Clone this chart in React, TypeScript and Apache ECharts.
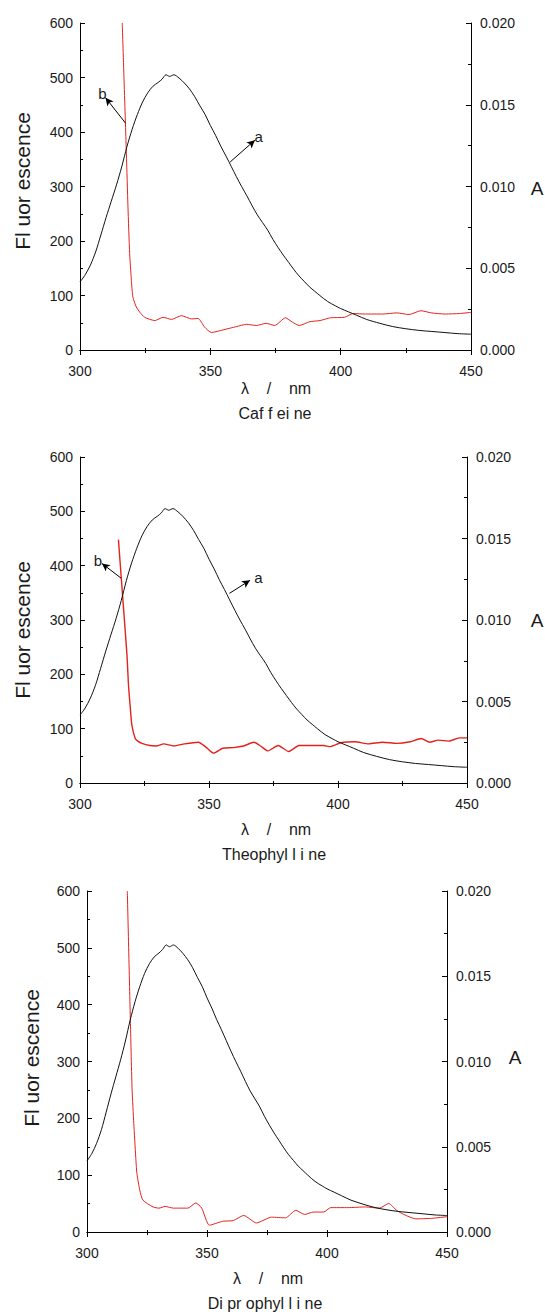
import React, { useEffect, useRef } from "react";
import * as echarts from "echarts";

// Fluorescence spectrum (curve a), wavelength nm -> intensity (same in all three panels)
const fluorescence: [number, number][] = [
  [300, 125], [302, 138], [304, 156], [306, 180], [308, 211], [310, 243], [312, 273],
  [314, 303], [316, 336], [318, 373], [320, 405], [322, 432], [324, 455], [326, 472],
  [328, 484], [330, 491], [331.5, 497], [333, 505], [334.4, 502], [336, 505], [338, 499],
  [340, 490], [342, 479], [344, 465], [346, 448], [348, 432], [350, 412], [352, 394],
  [354, 374], [356, 356], [358, 337], [360, 318], [362, 300], [364, 283], [366, 265],
  [368, 248], [370, 234], [372, 220], [374, 203], [376, 188], [378, 174], [380, 161],
  [382, 148], [384, 136], [386, 126], [388, 116], [390, 108], [392, 100], [395, 89],
  [398, 81], [400, 76], [403, 70], [406, 64], [410, 56], [415, 49], [420, 43], [425, 39],
  [430, 36], [435, 34], [440, 32], [445, 30], [450, 29],
];

// Absorbance spectra (curve b), wavelength nm -> A
const absCaffeine: [number, number][] = [
  [316.2, 0.02], [317.8, 0.012], [318.4, 0.00876], [319.05, 0.0059], [319.7, 0.00427],
  [320.3, 0.00323], [321.6, 0.00263], [322.9, 0.00232], [324.8, 0.002], [328.7, 0.0018],
  [331.9, 0.002], [335.1, 0.00187], [338.9, 0.0021],
  [342.8, 0.0019], [345.3, 0.00193], [347.8, 0.0014], [350.4, 0.00107], [354.9, 0.00123],
  [360, 0.00143], [363.9, 0.00157], [367.7, 0.0015], [371.4, 0.00163], [374.7, 0.0015],
  [378.8, 0.00197], [381.5, 0.0017], [384.1, 0.0015], [388.1, 0.00173], [392.1, 0.0018],
  [396.1, 0.00197], [401.5, 0.002], [404.8, 0.00223], [409.5, 0.0022], [416.2, 0.0022],
  [421.5, 0.00227], [426.2, 0.00217], [430.8, 0.0024], [434.8, 0.00227], [440.2, 0.0022],
  [445.5, 0.00223], [450, 0.0023],
];
const absTheophylline: [number, number][] = [
  [314.9, 0.01493], [316.3, 0.01193], [318.2, 0.00787], [318.8, 0.006], [319.5, 0.0046],
  [320.1, 0.00355], [321.4, 0.00273], [322.4, 0.00257],
  [324, 0.00243], [327, 0.0023], [329.8, 0.00227], [332.4, 0.0024], [336.4, 0.00227],
  [340.5, 0.0024], [345.9, 0.0025], [348.6, 0.00223], [351.7, 0.00183], [355.3, 0.00213],
  [359.5, 0.00217], [363.4, 0.00227], [367.4, 0.0025], [370, 0.00227], [372.8, 0.00197],
  [376.8, 0.0023], [380.9, 0.00193], [384.9, 0.0023], [390, 0.0023], [394.4, 0.0023],
  [397, 0.00223], [401.1, 0.00247], [406.5, 0.00253], [411.9, 0.0024], [417.3, 0.0025],
  [422.7, 0.00243], [428, 0.00253], [432.3, 0.00273], [435.5, 0.0025], [438.8, 0.00263],
  [442.9, 0.00257], [447, 0.00277], [450, 0.00277],
];
const absDiprophylline: [number, number][] = [
  [316.8, 0.02], [318.1, 0.01223], [318.8, 0.00833], [319.5, 0.00637], [320.3, 0.0044],
  [320.8, 0.00343], [322, 0.00245], [323.3, 0.00187],
  [327.5, 0.00147], [330, 0.0014], [332.6, 0.0015], [336, 0.0014], [342, 0.0014],
  [345.3, 0.0017], [347.8, 0.0014], [351, 0.0004], [356.6, 0.00063], [360.9, 0.00067],
  [365.3, 0.00097], [370.6, 0.00053], [376.9, 0.00087], [382.7, 0.00083], [387, 0.00127],
  [390.7, 0.00103], [394.3, 0.00117], [398.6, 0.00117], [401.5, 0.00143], [408.8, 0.00143],
  [416, 0.00147], [421.8, 0.0014], [425.7, 0.00167], [429, 0.00127], [432, 0.00103],
  [437, 0.00077], [443.6, 0.0008], [450, 0.0009],
];

const compounds = ["Caf f ei ne", "Theophyl l i ne", "Di pr ophyl l i ne"];
const xTickLabels = [300, 350, 400, 450];
const leftTicks = [0, 100, 200, 300, 400, 500, 600];
const rightTicks = [0, 0.005, 0.01, 0.015, 0.02];

// Arrow annotations [tail, head] in data units (a: left axis, b: right axis)
const arrowsA: ([number, number][] | null)[] = [
  [[357.6, 345], [367.1, 385]],
  [[357.9, 349], [365.9, 373]],
  null,
];
const arrowsB: ([number, number][] | null)[] = [
  [[317.5, 0.01387], [309.8, 0.01543]],
  [[315.9, 0.01257], [308.5, 0.01347]],
  null,
];

const FONT = "'Liberation Sans', Arial, Helvetica, sans-serif";
const TXT = "#1a1a1a";

const grids = [
  { left: 80, top: 23, width: 391, height: 327 },
  { left: 80, top: 457, width: 387, height: 326 },
  { left: 87, top: 891, width: 360, height: 341 },
];
const absData = [absCaffeine, absTheophylline, absDiprophylline];
const redWidths = [1, 1.4, 1];

// title positions (layout only)
const titlePos = [
  { fl: [22, 181], lam: [276, 388], name: [275, 413], a: [537, 188] },
  { fl: [22, 630], lam: [276, 829], name: [274, 854], a: [537, 620] },
  { fl: [31, 1058], lam: [268, 1278], name: [265, 1303], a: [515, 1057] },
];

export default function App() {
  const ref = useRef<HTMLDivElement>(null);
  useEffect(() => {
    if (!ref.current) return;
    const chart = echarts.init(ref.current, null, { renderer: "svg" });
    const axisLine = { show: true, lineStyle: { color: "#000", width: 1 } };
    const xAxes: any[] = [];
    const yAxes: any[] = [];
    const series: any[] = [];
    const graphic: any[] = [];
    grids.forEach((g, i) => {
      xAxes.push({
        type: "value", gridIndex: i, position: "bottom",
        min: xTickLabels[0], max: xTickLabels[xTickLabels.length - 1], interval: 50,
        axisLine, splitLine: { show: false },
        axisTick: { show: true, inside: false, length: 5, lineStyle: { color: "#000" } },
        minorTick: { show: true, splitNumber: 2, length: 3, lineStyle: { color: "#000" } },
        axisLabel: { fontSize: 14, color: TXT, fontFamily: FONT, margin: 14 },
      });
      xAxes.push({
        type: "value", gridIndex: i, position: "top",
        min: 300, max: 450, interval: 25,
        axisLine, splitLine: { show: false },
        axisTick: { show: true, inside: false, length: 2, lineStyle: { color: "#000" } },
        axisLabel: { show: false },
      });
      yAxes.push({
        type: "value", gridIndex: i, position: "left",
        min: leftTicks[0], max: leftTicks[leftTicks.length - 1], interval: 100,
        axisLine, splitLine: { show: false },
        axisTick: { show: true, inside: true, length: 5, lineStyle: { color: "#000" } },
        minorTick: { show: true, splitNumber: 2, length: 3, lineStyle: { color: "#000" } },
        axisLabel: { fontSize: 14, color: TXT, fontFamily: FONT, margin: 7 },
      });
      yAxes.push({
        type: "value", gridIndex: i, position: "right",
        min: rightTicks[0], max: rightTicks[rightTicks.length - 1], interval: 0.005,
        axisLine, splitLine: { show: false },
        axisTick: { show: true, inside: true, length: 5, lineStyle: { color: "#000" } },
        minorTick: { show: true, splitNumber: 2, length: 3, lineStyle: { color: "#000" } },
        axisLabel: {
          fontSize: 14, color: TXT, fontFamily: FONT, margin: 9,
          formatter: (v: number) => v.toFixed(3),
        },
      });
      const aArrow = arrowsA[i];
      const bArrow = arrowsB[i];
      const mk = (pts: [number, number][] | null, label: string) =>
        pts
          ? {
              silent: true,
              symbol: ["none", "arrow"],
              symbolSize: [6, 8],
              lineStyle: { color: "#000", width: 1, type: "solid" },
              label: {
                show: true, position: "end", formatter: label, distance: 5,
                fontSize: 15, color: TXT, fontFamily: FONT,
              },
              emphasis: { disabled: true },
              data: [[{ coord: pts[0] }, { coord: pts[1] }]],
            }
          : undefined;
      series.push({
        type: "line", name: "a", xAxisIndex: 2 * i, yAxisIndex: 2 * i,
        data: fluorescence, showSymbol: false, symbol: "none", smooth: 0.3,
        lineStyle: { color: "#111", width: 1 }, z: 3,
        markLine: mk(aArrow, "a"),
      });
      series.push({
        type: "line", name: "b", xAxisIndex: 2 * i, yAxisIndex: 2 * i + 1,
        data: absData[i], showSymbol: false, symbol: "none", smooth: 0.2,
        clip: true,
        lineStyle: { color: "#e2231d", width: redWidths[i] }, z: 2,
        markLine: mk(bArrow, "b"),
      });
      const t = titlePos[i];
      graphic.push({
        type: "text", x: t.fl[0], y: t.fl[1], rotation: Math.PI / 2,
        style: { text: "Fl uor escence", fontSize: 21, fontFamily: FONT, fill: TXT, align: "center", verticalAlign: "middle" },
      });
      graphic.push({
        type: "text", x: t.lam[0], y: t.lam[1],
        style: { text: "λ    /    nm", fontSize: 16, fontFamily: FONT, fill: TXT, align: "center", verticalAlign: "middle" },
      });
      graphic.push({
        type: "text", x: t.name[0], y: t.name[1],
        style: { text: compounds[i], fontSize: 16, fontFamily: FONT, fill: TXT, align: "center", verticalAlign: "middle" },
      });
      graphic.push({
        type: "text", x: t.a[0], y: t.a[1],
        style: { text: "A", fontSize: 19, fontFamily: FONT, fill: TXT, align: "center", verticalAlign: "middle" },
      });
    });
    chart.setOption({
      animation: false,
      backgroundColor: "#fff",
      textStyle: { fontFamily: FONT },
      grid: grids,
      xAxis: xAxes,
      yAxis: yAxes,
      series,
      graphic,
    });
    return () => chart.dispose();
  }, []);
  return (
    <div
      ref={ref}
      style={{ position: "absolute", left: 0, top: 0, width: 545, height: 1312 }}
    />
  );
}
